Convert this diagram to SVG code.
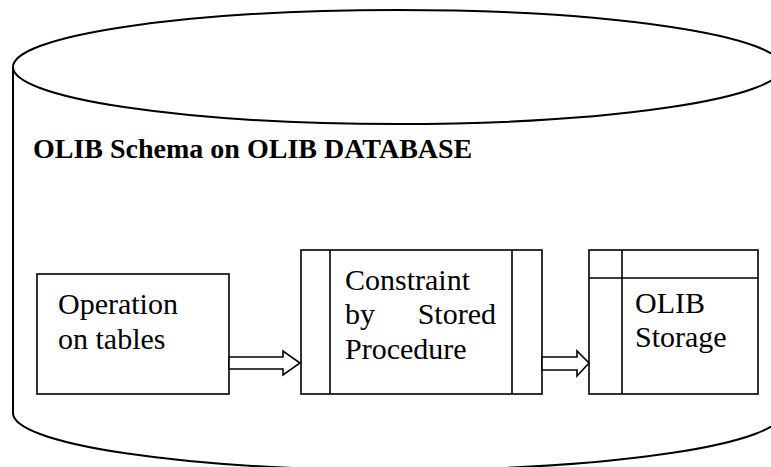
<svg xmlns="http://www.w3.org/2000/svg" width="771" height="467" viewBox="0 0 771 467">
<style>
.ln{fill:none;stroke:#000;stroke-width:2}
.bx{fill:#fff;stroke:#000;stroke-width:1.6}
.ar{fill:#fff;stroke:#000;stroke-width:1.6;stroke-linejoin:miter}
text{font-family:'Liberation Serif','DejaVu Serif',serif;fill:#000}
.t{font-size:30px}
.h{font-size:28px;font-weight:bold}
</style>
<rect width="771" height="467" fill="#fff"/>
<g id="database">
<path class="ln" d="M13,67 A384.5,57 0 0 1 782,67 A384.5,57 0 0 1 13,67 Z"/>
<path class="ln" d="M13,67 L13,413 A384.5,57 0 0 0 782,413 L782,67"/>
<text class="h" x="33" y="158" font-family="'Liberation Serif', serif">OLIB Schema on OLIB DATABASE</text>
</g>
<g id="operation">
<rect class="bx" x="37" y="274" width="192" height="120"/>
<text class="t" x="58" y="314">Operation</text>
<text class="t" x="58" y="349">on tables</text>
</g>
<g id="constraint">
<rect class="bx" x="301" y="250" width="241" height="144"/>
<line class="bx" x1="330" y1="250" x2="330" y2="394"/>
<line class="bx" x1="512" y1="250" x2="512" y2="394"/>
<text class="t" x="345" y="290">Constraint</text>
<text class="t" x="345" y="324">by</text>
<text class="t" x="496" y="324" text-anchor="end">Stored</text>
<text class="t" x="345" y="359">Procedure</text>
</g>
<g id="storage">
<rect class="bx" x="589" y="250" width="169" height="144"/>
<line class="bx" x1="622" y1="250" x2="622" y2="394"/>
<line class="bx" x1="589" y1="278" x2="758" y2="278"/>
<text class="t" x="635" y="313">OLIB</text>
<text class="t" x="635" y="347">Storage</text>
</g>
<g id="connectors">
<polygon class="ar" points="229,357 283,357 283,351 300,363 283,375 283,369 229,369"/>
<polygon class="ar" points="542,357 577,357 577,351 589,363 577,376 577,370 542,370"/>
</g>
</svg>
